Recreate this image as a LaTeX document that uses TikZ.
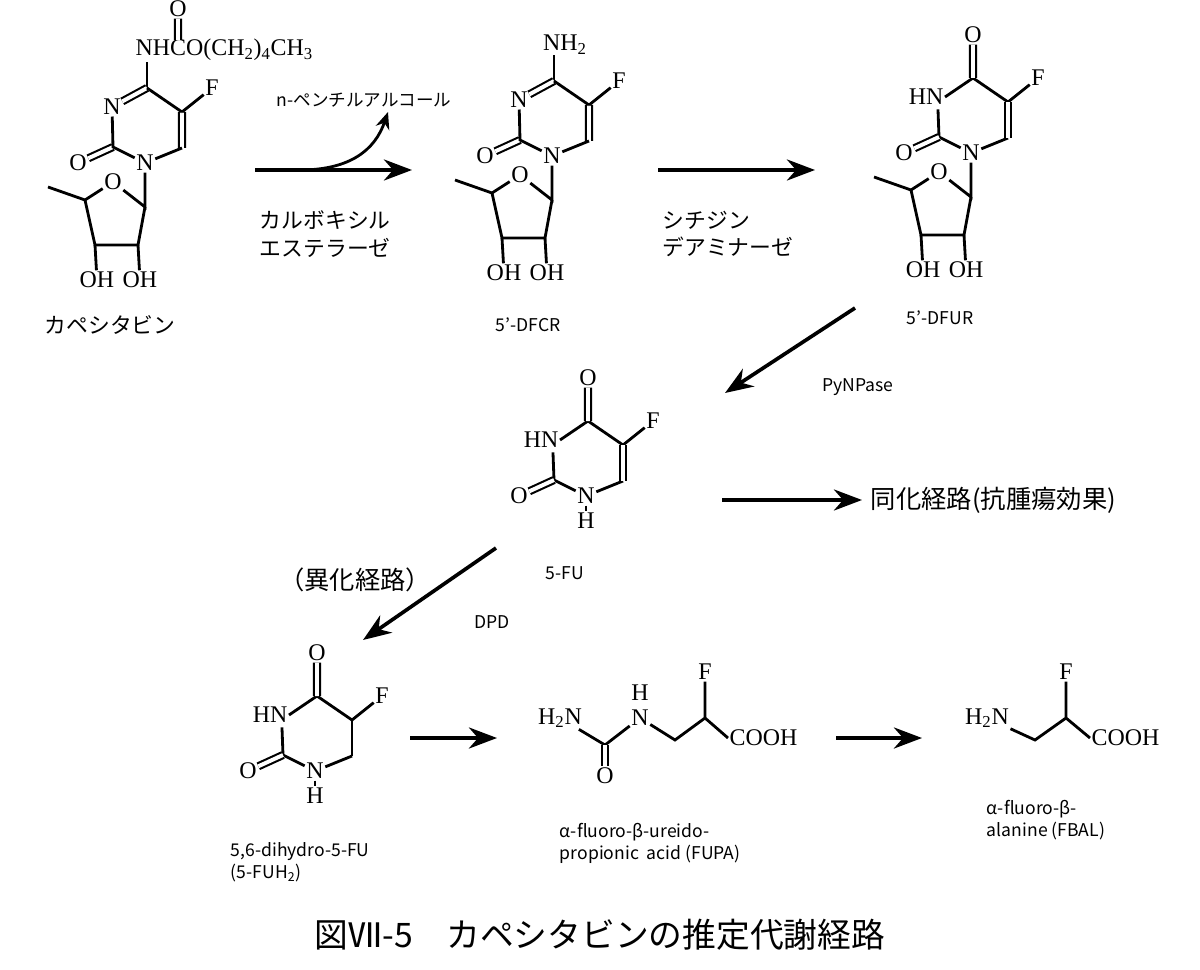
\documentclass[tikz,border=0pt]{standalone}
\usepackage{fontspec}
\usepackage{amsmath}
\setmainfont{Noto Sans CJK JP}
\newfontfamily\chem{Liberation Serif}
\usetikzlibrary{arrows.meta}

\tikzset{
  atom/.style={font=\chem\fontsize{17}{17}\selectfont, inner sep=1pt},
  bond/.style={line width=2pt},
  dbl/.style={line width=1.5pt, double, double distance=2.8pt},
  rxn/.style={line width=2.6pt, -{Stealth[length=20pt,width=15pt]}},
  jp/.style={font=\fontsize{15.5}{19.5}\selectfont, align=left},
  lbl/.style={font=\fontsize{12.5}{15.5}\selectfont, align=left},
}

% sugar ring below N1 (name prefix #1)
\newcommand\sugar[1]{
  \coordinate (#1c1) at (145,207);
  \node[atom] (#1o) at (113,182) {O};
  \coordinate (#1c4) at (85,200);
  \coordinate (#1me) at (48,187);
  \coordinate (#1c3) at (95,245);
  \coordinate (#1c2) at (138,245);
  \node[atom] (#1oh1) at (97,280) {OH};
  \node[atom] (#1oh2) at (140,280) {OH};
  \draw[bond] (#1N1) -- (#1c1) -- (#1o) -- (#1c4) -- (#1me);
  \draw[bond] (#1c4) -- (#1c3) -- (#1c2) -- (#1c1);
  \draw[bond] (#1c3) -- (#1oh1);
  \draw[bond] (#1c2) -- (#1oh2);
}
% uracil ring, HN at N3, C4=O (#2 = double C5=C6 or not)
\newcommand\uracil[2]{
  \coordinate (#1C4) at (147,88);
  \node[atom, anchor=east] (#1N3l) at (119,107) {HN};
  \coordinate (#1N3) at ([xshift=-5pt]#1N3l.east);
  \coordinate (#1C2) at (113,147);
  \node[atom] (#1N1) at (145,163) {N};
  \coordinate (#1C6) at (182,148);
  \coordinate (#1C5) at (182,112);
  \node[atom] (#1F) at (212,88) {F};
  \node[atom] (#1O2) at (78,163) {O};
  \node[atom] (#1O4) at (147,45) {O};
  \draw[bond] (#1C4) -- (#1N3l.east) (#1N3l.south -| #1N3) ++(0,-2pt) -- (#1C2) -- (#1N1) -- (#1C6);
  \draw[bond] (#1C5) -- (#1C4) (#1C5) -- (#1F);
  \draw[dbl] (#1C4) -- (#1O4) (#1C2) -- (#1O2);
  \ifx#2d\draw[dbl] (#1C5) -- (#1C6);\else\draw[bond] (#1C5) -- (#1C6);\fi
}

\begin{document}
\begin{tikzpicture}[x=0.025cm, y=-0.025cm]
\useasboundingbox (0,0) rectangle (1200,970);

% capecitabine
\coordinate (kC4) at (147,88);
\node[atom] (kN3) at (112,107) {N};
\coordinate (kC2) at (113,147);
\node[atom] (kN1) at (145,163) {N};
\coordinate (kC6) at (182,148);
\coordinate (kC5) at (182,112);
\node[atom] (kF) at (212,88) {F};
\node[atom] (kO2) at (78,163) {O};
\node[atom, anchor=west] (kNH) at (134,50) {NHCO(CH\textsubscript{2})\textsubscript{4}CH\textsubscript{3}};
\node[atom] (kOc) at (178,9) {O};
\coordinate (kCc) at (178,40);
\draw[bond] (kC4) -- (147,62);
\draw[dbl] (kC4) -- (kN3) (kC2) -- (kO2) (kC5) -- (kC6) (kOc) -- (kCc);
\draw[bond] (kN3) -- (kC2) -- (kN1) -- (kC6) (kC5) -- (kC4) (kC5) -- (kF);
\sugar{k}
\node[jp] (kname) at (110,325) {カペシタビン};

% 5'-DFCR
\begin{scope}[shift={(407,-7)}]
\coordinate (cC4) at (147,88);
\node[atom] (cN3) at (112,107) {N};
\coordinate (cC2) at (113,147);
\node[atom] (cN1) at (145,163) {N};
\coordinate (cC6) at (182,148);
\coordinate (cC5) at (182,112);
\node[atom] (cF) at (212,88) {F};
\node[atom] (cO2) at (78,163) {O};
\node[atom] (cNH2) at (158,52) {NH\textsubscript{2}};
\draw[bond] (cC4) -- (147,62);
\draw[dbl] (cC4) -- (cN3) (cC2) -- (cO2) (cC5) -- (cC6);
\draw[bond] (cN3) -- (cC2) -- (cN1) -- (cC6) (cC5) -- (cC4) (cC5) -- (cF);
\sugar{c}
\node[lbl] (cname) at (121,332) {5'-DFCR};
\end{scope}

% 5'-DFUR
\begin{scope}[shift={(826,-10)}]
\uracil{u}{d}
\sugar{u}
\node[lbl] (uname) at (114,328) {5'-DFUR};
\end{scope}

% 5-FU
\begin{scope}[shift={(441,333)}]
\uracil{f}{d}
\node[atom] (fH) at (145,188) {H};
\draw[bond] (fN1) -- (fH);
\node[lbl] (fname) at (124,240) {5-FU};
\end{scope}

% 5,6-dihydro-5-FU
\begin{scope}[shift={(170,608)}]
\uracil{h}{s}
\node[atom] (hH) at (145,188) {H};
\draw[bond] (hN1) -- (hH);
\end{scope}
\node[lbl, anchor=west] (hname) at (226,862) {5,6-dihydro-5-FU\\(5-FUH\textsubscript{2})};

% FUPA
\node[atom] (pNH2) at (560,718) {H\textsubscript{2}N};
\coordinate (pC) at (605,745);
\node[atom] (pO) at (605,776) {O};
\node[atom] (pN) at (640,718) {N};
\node[atom] (pH) at (640,693) {H};
\coordinate (pCH2) at (675,740);
\coordinate (pCH) at (705,718);
\node[atom] (pF) at (705,672) {F};
\node[atom, anchor=west] (pCOOH) at (728,738) {COOH};
\draw[bond] (pNH2) -- (pC) -- (pN) -- (pCH2) -- (pCH) -- (pCOOH.west) (pCH) -- (pF);
\draw[dbl] (pC) -- (pO);
\node[lbl, anchor=west] (pname) at (555,843) {α-fluoro-β-ureido-\\propionic\ \ acid (FUPA)};

% FBAL
\node[atom] (aNH2) at (987,718) {H\textsubscript{2}N};
\coordinate (aCH2) at (1035,740);
\coordinate (aCH) at (1066,718);
\node[atom] (aF) at (1066,672) {F};
\node[atom, anchor=west] (aCOOH) at (1090,738) {COOH};
\draw[bond] (aNH2) -- (aCH2) -- (aCH) -- (aCOOH.west) (aCH) -- (aF);
\node[lbl, anchor=west] (aname) at (982,820) {α-fluoro-β-\\alanine (FBAL)};

% reactions
\coordinate (r1a) at (255,170); \coordinate (r1b) at (412,170);
\coordinate (r1c) at (388,112);
\draw[rxn] (r1a) -- (r1b);
\draw[line width=2pt, -{Stealth[length=12pt,width=10pt]}] (300,170) .. controls (350,170) and (375,150) .. (r1c);
\node[lbl] (alc) at (364,100) {n-ペンチルアルコール};
\node[jp, anchor=west] (enz1) at (255,234) {カルボキシル\\エステラーゼ};

\coordinate (r2a) at (658,170); \coordinate (r2b) at (815,170);
\draw[rxn] (r2a) -- (r2b);
\node[jp, anchor=west] (enz2) at (658,234) {シチジン\\デアミナーゼ};

\coordinate (r3a) at (855,308); \coordinate (r3b) at (725,393);
\draw[rxn] (r3a) -- (r3b);
\node[lbl] (enz3) at (858,387) {PyNPase};

\coordinate (r4a) at (722,500); \coordinate (r4b) at (862,500);
\draw[rxn] (r4a) -- (r4b);
\node[font=\fontsize{18}{21}\selectfont, anchor=west] (ana) at (866,500) {同化経路(抗腫瘍効果)};

\coordinate (r5a) at (496,548); \coordinate (r5b) at (363,640);
\draw[rxn] (r5a) -- (r5b);
\node[font=\fontsize{18}{21}\selectfont] (cata) at (355,580) {（異化経路）};
\node[lbl] (enz5) at (492,622) {DPD};

\coordinate (r6a) at (410,738); \coordinate (r6b) at (497,738);
\draw[rxn] (r6a) -- (r6b);
\coordinate (r7a) at (836,738); \coordinate (r7b) at (922,738);
\draw[rxn] (r7a) -- (r7b);

\node[font=\fontsize{24}{28}\selectfont] (cap) at (600,935) {図Ⅶ-5\quad カペシタビンの推定代謝経路};
\end{tikzpicture}
\end{document}
